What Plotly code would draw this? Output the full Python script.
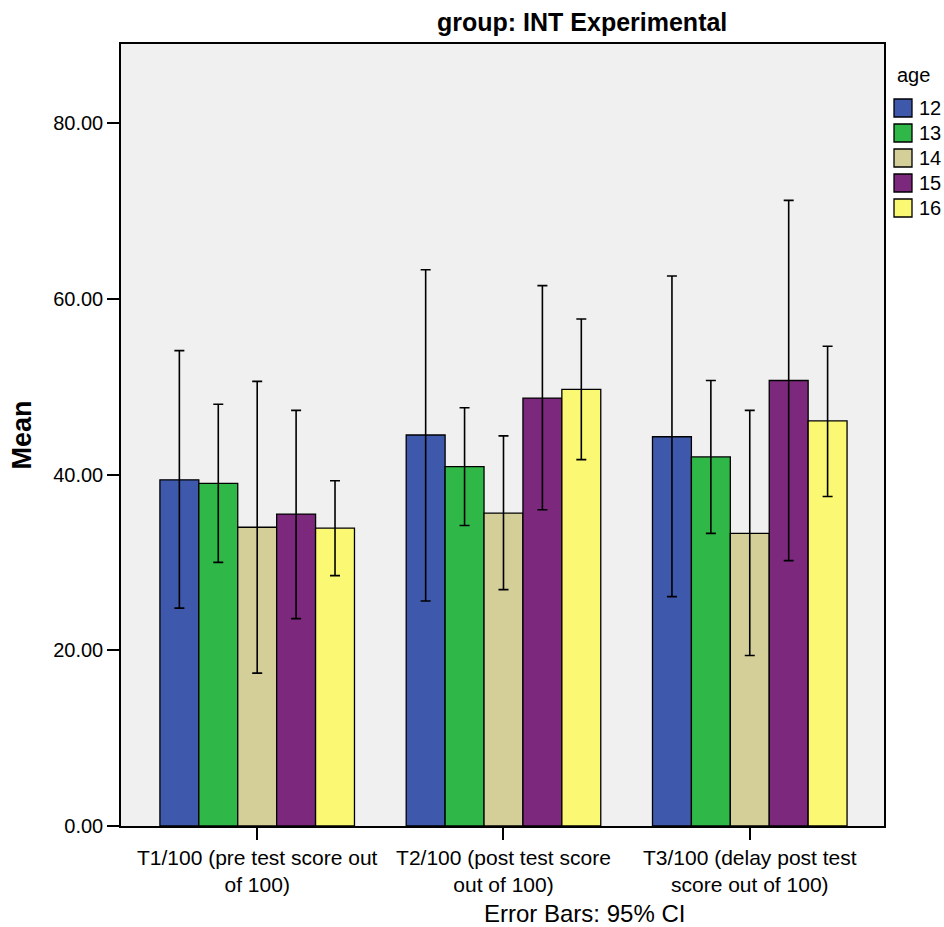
import plotly.graph_objects as go

# Test occasions (x categories)
categories = [
    "T1/100 (pre test score out<br>of 100)",
    "T2/100 (post test score<br>out of 100)",
    "T3/100 (delay post test<br>score out of 100)",
]

ages = ["12", "13", "14", "15", "16"]

# Mean score per age group at each test occasion
means = {
    "12": [39.4, 44.5, 44.3],
    "13": [39.0, 40.9, 42.0],
    "14": [34.0, 35.6, 33.3],
    "15": [35.5, 48.7, 50.7],
    "16": [33.9, 49.7, 46.1],
}

# 95% confidence interval bounds
ci_upper = {
    "12": [54.1, 63.3, 62.6],
    "13": [48.0, 47.6, 50.7],
    "14": [50.6, 44.4, 47.3],
    "15": [47.3, 61.5, 71.2],
    "16": [39.3, 57.7, 54.6],
}
ci_lower = {
    "12": [24.8, 25.6, 26.1],
    "13": [30.0, 34.2, 33.3],
    "14": [17.4, 26.9, 19.4],
    "15": [23.6, 36.0, 30.2],
    "16": [28.5, 41.7, 37.5],
}

colors = {
    "12": "#3e58ac",
    "13": "#2fb848",
    "14": "#d4cf98",
    "15": "#7b287d",
    "16": "#fbf873",
}

FONT = "Liberation Sans, Arial, sans-serif"

W, H = 944, 927
ML, MR, MT, MB = 121, 60, 44, 101
PW, PH = W - ML - MR, H - MT - MB


def px_x(px):
    """Pixel column -> paper x."""
    return (px - ML) / PW


def px_y(py):
    """Pixel row -> paper y."""
    return (H - MB - py) / PH


fig = go.Figure()

for a in ages:
    m = means[a]
    plus = [u - v for u, v in zip(ci_upper[a], m)]
    minus = [v - l for v, l in zip(m, ci_lower[a])]
    fig.add_trace(go.Bar(
        x=categories,
        y=m,
        name=a,
        marker=dict(color=colors[a], line=dict(color="black", width=1.3)),
        error_y=dict(type="data", symmetric=False, array=plus, arrayminus=minus,
                     color="black", thickness=1.6, width=5),
        showlegend=False,
    ))

# Legend drawn as swatches + labels to the right of the plot area
shapes = []
annotations = [
    dict(text="age", xref="paper", yref="paper", x=px_x(895), y=px_y(75),
         xanchor="left", yanchor="middle", showarrow=False, font=dict(size=20)),
]
for i, a in enumerate(ages):
    cy = 108 + 25 * i
    shapes.append(dict(
        type="rect", xref="paper", yref="paper",
        x0=px_x(894), x1=px_x(912), y0=px_y(cy - 9), y1=px_y(cy + 9),
        fillcolor=colors[a], line=dict(color="black", width=1.3),
    ))
    annotations.append(dict(
        text=a, xref="paper", yref="paper", x=px_x(917), y=px_y(cy),
        xanchor="left", yanchor="middle", showarrow=False, font=dict(size=20),
    ))

annotations += [
    dict(text="<b>group: INT Experimental</b>", xref="paper", yref="paper",
         x=0.604, y=px_y(22), xanchor="center", yanchor="middle",
         showarrow=False, font=dict(size=25)),
    dict(text="Error Bars: 95% CI", xref="paper", yref="paper",
         x=0.607, y=px_y(913), xanchor="center", yanchor="middle",
         showarrow=False, font=dict(size=24)),
]

fig.update_layout(
    width=W,
    height=H,
    margin=dict(l=ML, r=MR, t=MT, b=MB, autoexpand=False),
    paper_bgcolor="white",
    plot_bgcolor="#f0f0f0",
    barmode="group",
    bargap=0.21,
    bargroupgap=0,
    showlegend=False,
    font=dict(family=FONT, size=20, color="black"),
    xaxis=dict(
        range=[-0.553, 2.545],
        showline=True, linecolor="black", linewidth=1.5, mirror=True,
        ticks="outside", ticklen=12, tickcolor="black", tickwidth=1.5,
        tickfont=dict(size=21),
        showgrid=False,
    ),
    yaxis=dict(
        range=[0, 89],
        tickvals=[0, 20, 40, 60, 80],
        tickformat=".2f",
        showline=True, linecolor="black", linewidth=1.5, mirror=True,
        ticks="outside", ticklen=12, tickcolor="black", tickwidth=1.5,
        tickfont=dict(size=20),
        showgrid=False, zeroline=False,
        title=dict(text="<b>Mean</b>", font=dict(size=27), standoff=14),
    ),
    shapes=shapes,
    annotations=annotations,
)

fig.write_html("out.html")
